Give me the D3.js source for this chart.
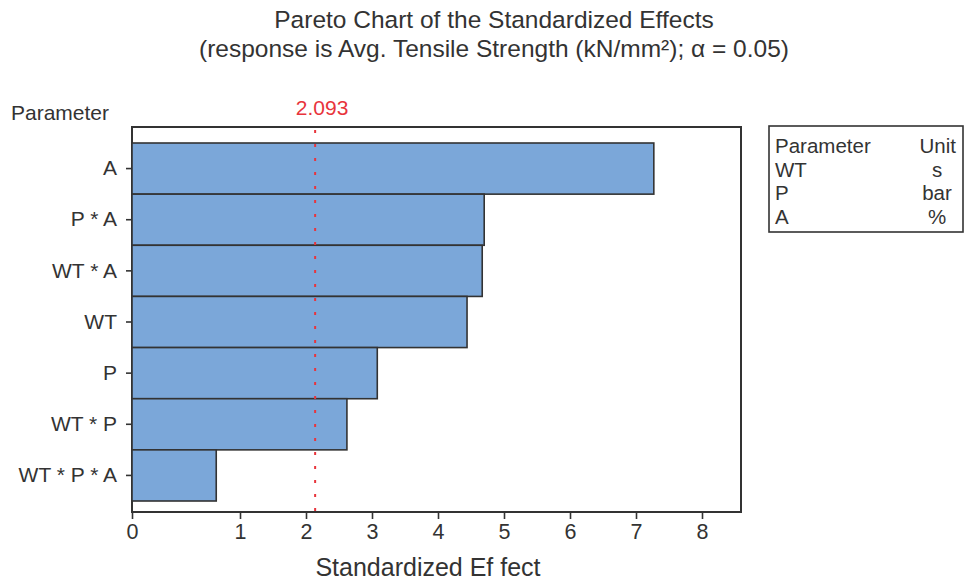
<!DOCTYPE html>
<html>
<head>
<meta charset="utf-8">
<script src="https://cdn.jsdelivr.net/npm/d3@7"></script>
<style>
  body { margin: 0; background: #fff; }
  svg { font-family: "Liberation Sans", Arial, sans-serif; }
  .axis-x path, .axis-x line, .axis-y path, .axis-y line { stroke: #333; stroke-width: 1.6; }
  .axis-x text, .axis-y text { fill: #333; }
</style>
</head>
<body>
<div id="chart"></div>
<script>
// 数据
var params = ['A', 'P * A', 'WT * A', 'WT', 'P', 'WT * P', 'WT * P * A']
var effects = [7.27, 4.70, 4.67, 4.44, 3.08, 2.62, 0.78]
var xTicks = [0, 1, 2, 3, 4, 5, 6, 7, 8]
var critical = 2.093
var legendParams = ['WT', 'P', 'A']
var legendUnits = ['s', 'bar', '%']

var width = 968
var height = 581
var frame = { left: 132, right: 741, top: 127, bottom: 512 }

var svg = d3.select('#chart')
  .append('svg')
  .attr('width', width)
  .attr('height', height)

// 原图横轴 0~1 间距比其余刻度宽，用分段比例尺还原
var x = d3.scaleLinear()
  .domain([0, 1, 8])
  .range([frame.left, 240, 702])

var y = d3.scaleBand()
  .domain(params)
  .range([143, 501])
  .padding(0)

// 标题
var title = svg.append('text')
  .attr('text-anchor', 'middle')
  .attr('fill', '#333')
  .style('font-size', '24.5px')
title.append('tspan').attr('x', 494).attr('y', 28).text('Pareto Chart of the Standardized Effects')
title.append('tspan').attr('x', 494).attr('y', 57).text('(response is Avg. Tensile Strength (kN/mm²); α = 0.05)')

// 边框
svg.append('rect')
  .attr('x', frame.left)
  .attr('y', frame.top)
  .attr('width', frame.right - frame.left)
  .attr('height', frame.bottom - frame.top)
  .attr('fill', 'none')
  .attr('stroke', '#333')
  .attr('stroke-width', 2)

// 柱状
svg.append('g')
  .selectAll('rect')
  .data(params)
  .enter().append('rect')
  .attr('x', x(0))
  .attr('y', function (d) { return y(d) })
  .attr('width', function (d, i) { return x(effects[i]) - x(0) })
  .attr('height', y.bandwidth())
  .attr('fill', '#7ba7d9')
  .attr('stroke', '#333')
  .attr('stroke-width', 1.6)

// 临界线
svg.append('line')
  .attr('x1', x(critical) + 3)
  .attr('x2', x(critical) + 3)
  .attr('y1', frame.top + 3)
  .attr('y2', frame.bottom)
  .attr('stroke', '#e8343c')
  .attr('stroke-width', 2)
  .attr('stroke-dasharray', '3,11')

svg.append('text')
  .attr('x', x(critical) + 10)
  .attr('y', 115)
  .attr('text-anchor', 'middle')
  .attr('fill', '#e8343c')
  .style('font-size', '21px')
  .text(critical.toFixed(3))

// 横坐标
svg.append('g')
  .classed('axis-x', true)
  .attr('transform', 'translate(0,' + frame.bottom + ')')
  .call(d3.axisBottom(x).tickValues(xTicks).tickFormat(d3.format('d')).tickSize(7).tickSizeOuter(0).tickPadding(5))
  .call(function (g) {
    g.select('.domain').remove()
    g.selectAll('.tick text').style('font-size', '21.5px').attr('font-family', null)
  })

svg.append('text')
  .attr('x', 428)
  .attr('y', 576)
  .attr('text-anchor', 'middle')
  .attr('fill', '#333')
  .style('font-size', '25px')
  .text('Standardized Ef fect')

// 纵坐标
svg.append('g')
  .classed('axis-y', true)
  .attr('transform', 'translate(' + frame.left + ',0)')
  .call(d3.axisLeft(y).tickSize(6).tickSizeOuter(0).tickPadding(9))
  .call(function (g) {
    g.select('.domain').remove()
    g.selectAll('.tick text').style('font-size', '21px').attr('font-family', null)
  })

svg.append('text')
  .attr('x', 11)
  .attr('y', 120)
  .attr('fill', '#333')
  .style('font-size', '21px')
  .text('Parameter')

// 图例
var legend = svg.append('g')
legend.append('rect')
  .attr('x', 769)
  .attr('y', 126)
  .attr('width', 194)
  .attr('height', 106)
  .attr('fill', 'none')
  .attr('stroke', '#333')
  .attr('stroke-width', 1.6)

var rows = [['Parameter', 'Unit']].concat(legendParams.map(function (p, i) { return [p, legendUnits[i]] }))
rows.forEach(function (r, i) {
  var ty = 153 + i * 23.5
  legend.append('text')
    .attr('x', 775)
    .attr('y', ty)
    .attr('fill', '#333')
    .style('font-size', '20.5px')
    .text(r[0])
  legend.append('text')
    .attr('x', i === 0 ? 956 : 937)
    .attr('y', ty)
    .attr('text-anchor', i === 0 ? 'end' : 'middle')
    .attr('fill', '#333')
    .style('font-size', '20.5px')
    .text(r[1])
})
</script>
</body>
</html>
